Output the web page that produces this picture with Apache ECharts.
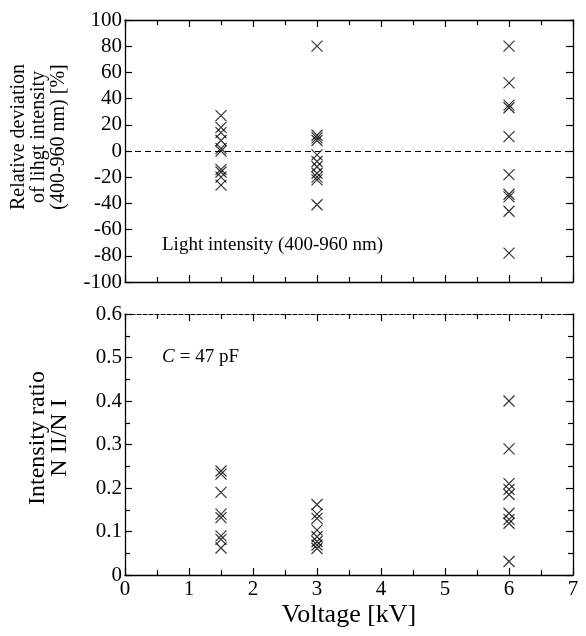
<!DOCTYPE html>
<html>
<head>
<meta charset="utf-8">
<script src="https://cdn.jsdelivr.net/npm/echarts@6/dist/echarts.min.js"></script>
<style>html,body{margin:0;padding:0;background:#fff}#c{width:586px;height:636px}</style>
</head>
<body>
<div id="c"></div>
<script>
// ---- data ----
const voltageTicks = [0, 1, 2, 3, 4, 5, 6, 7];
const deviationTicks = [-100, -80, -60, -40, -20, 0, 20, 40, 60, 80, 100];
const ratioTicks = [0, 0.1, 0.2, 0.3, 0.4, 0.5, 0.6];

const voltages = [1.5, 3, 6];
const deviationAt1p5 = [27, 18, 14, 8, 2, 0, -14, -16, -20, -26];
const deviationAt3 = [80, 12, 10, 8, -3, -8, -12, -17, -20, -22, -41];
const deviationAt6 = [80, 52, 35, 33, 11, -18, -33, -35, -46, -78];
const ratioAt1p5 = [0.239, 0.232, 0.19, 0.14, 0.132, 0.09, 0.082, 0.062];
const ratioAt3 = [0.162, 0.14, 0.13, 0.103, 0.088, 0.077, 0.069, 0.061];
const ratioAt6 = [0.40, 0.29, 0.21, 0.197, 0.185, 0.142, 0.128, 0.119, 0.031];

const deviationGroups = [deviationAt1p5, deviationAt3, deviationAt6];
const ratioGroups = [ratioAt1p5, ratioAt3, ratioAt6];

function pairs(groups) {
  const out = [];
  groups.forEach((g, i) => g.forEach(v => out.push([voltages[i], v])));
  return out;
}

// ---- chart ----
const FONT = "'Liberation Serif', 'Times New Roman', serif";
const BLACK = '#000';
const axisLineStyle = { color: BLACK, width: 1.3 };

function xAxisDef(grid, pos, withLabels) {
  return {
    gridIndex: grid, type: 'value', position: pos,
    min: voltageTicks[0], max: voltageTicks[voltageTicks.length - 1], interval: 1,
    axisLine: { show: true, onZero: false, lineStyle: axisLineStyle },
    axisTick: { show: true, inside: true, length: 7, lineStyle: { color: BLACK, width: 1.2 } },
    minorTick: { show: true, splitNumber: 2, length: 5, lineStyle: { color: BLACK, width: 1.2 } },
    splitLine: { show: false }, minorSplitLine: { show: false },
    axisLabel: { show: withLabels, color: BLACK, fontFamily: FONT, fontSize: 21, margin: 4 }
  };
}
function yAxisDef(grid, pos, ticks, interval, minor, withLabels) {
  return {
    gridIndex: grid, type: 'value', position: pos,
    min: ticks[0], max: ticks[ticks.length - 1], interval: interval,
    axisLine: { show: true, onZero: false, lineStyle: axisLineStyle },
    axisTick: { show: true, inside: true, length: 7, lineStyle: { color: BLACK, width: 1.2 } },
    minorTick: { show: minor, splitNumber: 2, length: 5, lineStyle: { color: BLACK, width: 1.2 } },
    splitLine: { show: false }, minorSplitLine: { show: false },
    axisLabel: { show: withLabels, color: BLACK, fontFamily: FONT, fontSize: 21, margin: 3,
      formatter: v => String(Math.round(v * 100) / 100) }
  };
}

const xAxes = [
  xAxisDef(0, 'bottom', false),
  xAxisDef(0, 'top', false),
  Object.assign(xAxisDef(1, 'bottom', true), {
    name: 'Voltage [kV]', nameLocation: 'middle', nameGap: 27,
    nameTextStyle: { color: BLACK, fontFamily: FONT, fontSize: 26 }
  }),
  xAxisDef(1, 'top', false)
];
xAxes[3].axisLine.lineStyle = { color: BLACK, width: 1.2, type: [4, 2] };

const marker = 'path://M0,0L10,10M0,10L10,0';

const option = {
  animation: false,
  backgroundColor: '#fff',
  grid: [
    { left: 125, right: 13, top: 20, height: 262 },
    { left: 125, right: 13, top: 314, height: 261 }
  ],
  xAxis: xAxes,
  yAxis: [
    yAxisDef(0, 'left', deviationTicks, 20, false, true),
    yAxisDef(0, 'right', deviationTicks, 20, false, false),
    yAxisDef(1, 'left', ratioTicks, 0.1, true, true),
    yAxisDef(1, 'right', ratioTicks, 0.1, true, false)
  ],
  series: [
    {
      type: 'scatter', xAxisIndex: 0, yAxisIndex: 0,
      data: pairs(deviationGroups),
      symbol: marker, symbolSize: 11, symbolKeepAspect: true,
      itemStyle: { color: 'transparent', borderColor: BLACK, borderWidth: 1.2 },
      emphasis: { disabled: true },
      markLine: {
        silent: true, symbol: ['none', 'none'], label: { show: false },
        lineStyle: { color: BLACK, width: 1.2, type: [6, 4] },
        data: [{ yAxis: 0 }]
      }
    },
    {
      type: 'scatter', xAxisIndex: 2, yAxisIndex: 2,
      data: pairs(ratioGroups),
      symbol: marker, symbolSize: 11, symbolKeepAspect: true,
      itemStyle: { color: 'transparent', borderColor: BLACK, borderWidth: 1.2 },
      emphasis: { disabled: true }
    }
  ],
  graphic: [
    { type: 'text', x: 162, y: 245, style: { text: 'Light intensity (400-960 nm)', fill: BLACK,
      font: '19px ' + FONT, textVerticalAlign: 'middle' } },
    { type: 'text', x: 162, y: 357, style: { text: 'C', fill: BLACK,
      font: 'italic 19px ' + FONT, textVerticalAlign: 'middle' } },
    { type: 'text', x: 175, y: 357, style: { text: ' = 47 pF', fill: BLACK,
      font: '19px ' + FONT, textVerticalAlign: 'middle' } },
    { type: 'text', x: 39, y: 137, rotation: Math.PI / 2,
      style: { text: 'Relative deviation\nof lihgt intensity\n(400-960 nm) [%]', fill: BLACK,
        font: '20px ' + FONT, lineHeight: 20, textAlign: 'center', textVerticalAlign: 'middle' } },
    { type: 'text', x: 49, y: 438, rotation: Math.PI / 2,
      style: { text: 'Intensity ratio\nN II/N I', fill: BLACK,
        font: '24px ' + FONT, lineHeight: 22, textAlign: 'center', textVerticalAlign: 'middle' } }
  ]
};

const chart = echarts.init(document.getElementById('c'), null, { renderer: 'canvas' });
chart.setOption(option);
</script>
</body>
</html>
